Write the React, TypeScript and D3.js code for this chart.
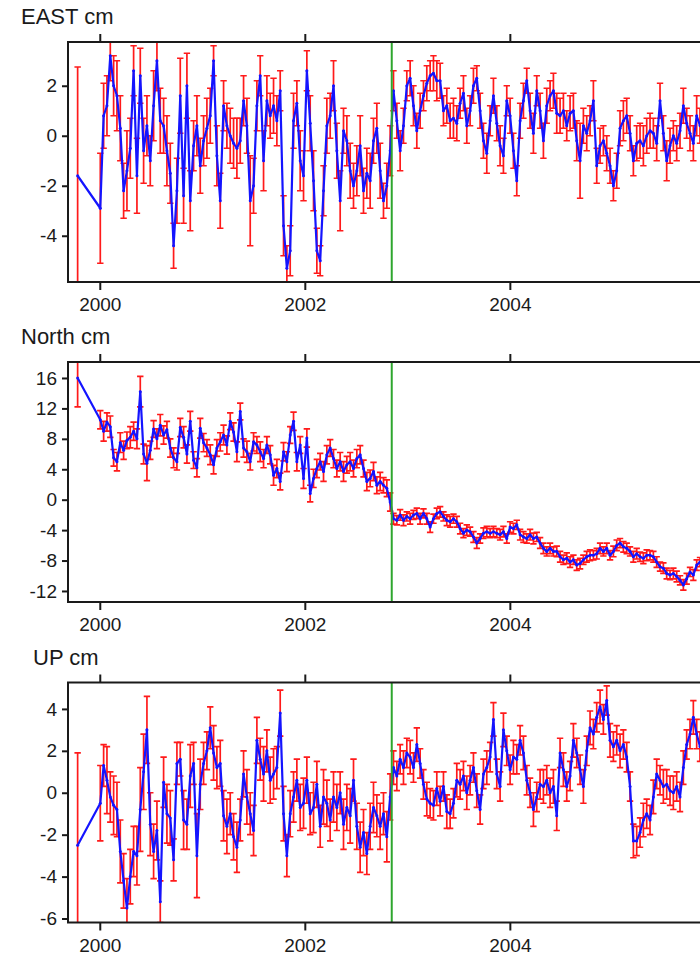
import React, { useRef, useEffect } from "react";
import { select, scaleLinear, line, axisLeft, axisBottom, axisTop, range } from "d3";

// epochs (decimal years): one early solution, then a regular series
const firstEpoch = 1999.784;
const startEpoch = 2000.005;
const sampleStep = 0.0325;
const breakEpoch = 2002.848;

const eastCm = [-1.6,
  -2.9, 0.8, 1.2, 3.2, 2.0, 1.6, 0.3, -2.2, -1.4, -0.5,
  2.6, -1.6, 2.4, -0.6, 0.4, -1.0, 1.2, 3.0, 0.6, 0.4,
  -0.6, -1.5, -4.4, -2.2, 1.6, -2.4, 2.0, -2.6, -0.4, 0.4,
  -1.2, -0.2, 0.3, 0.8, 3.0, -0.8, -2.6, 1.2, 0.4, 0.0,
  -0.3, -0.5, -0.2, 1.4, 0.4, -2.6, -2.0, 1.2, 2.4, -1.0,
  1.4, 0.8, 1.2, 0.6, 1.8, -3.6, -5.3, -4.6, 0.6, 1.3,
  -1.0, -1.6, 2.6, 0.5, -1.8, -4.6, -5.0, -2.2, 0.4, 0.8,
  2.0, -0.6, -2.6, 0.2, -0.2, -1.4, -2.0, -1.4, -0.4, -2.2,
  -1.5, -1.8, -0.2, 0.3, -1.4, -2.6, -2.0, -0.6, 1.8, 0.6,
  -0.6, 0.4, 2.0, 2.3, 1.2, 0.2, 1.0, 1.6, 2.1, 2.4,
  2.5, 2.2, 2.2, 1.0, 1.2, 0.6, 0.7, 0.5, 1.3, 1.7,
  0.4, 1.0, 2.0, 2.3, 1.0, -0.2, -0.7, 0.6, 1.6, 0.5,
  -0.4, -0.8, 1.4, 0.8, -0.6, -1.8, 0.6, 1.4, 2.2, 1.0,
  0.1, 1.8, 1.0, -0.2, 1.2, 1.6, 1.8, 0.9, 0.8, 1.0,
  0.4, 0.9, 1.0, -0.2, -1.0, 0.4, 0.1, 0.6, 1.4, -1.2,
  -0.4, -0.2, -0.7, -1.2, -2.0, -1.4, 0.3, 0.6, 0.8, 0.1,
  -1.0, -0.3, -0.2, -0.4, 0.0, 0.2, 0.1, -0.3, 1.4, 0.1,
  -1.0, -0.4, 0.0, -0.3, 0.2, 1.2, 0.5, 0.1, -0.3, 0.8,
  0.4];
const eastErr = [4.35,
  2.2, 1.3, 1.2, 1.0, 1.2, 1.4, 1.3, 1.1, 1.6, 1.2,
  1.0, 1.5, 1.1, 1.3, 1.2, 1.0, 1.4, 1.2, 1.3, 1.1,
  1.4, 1.2, 0.9, 1.3, 1.5, 1.1, 1.3, 1.2, 1.0, 1.2,
  1.1, 1.0, 1.2, 1.1, 0.6, 1.2, 1.1, 1.0, 0.9, 1.1,
  1.0, 1.2, 0.9, 1.0, 1.1, 1.8, 1.1, 1.0, 0.8, 1.2,
  1.0, 0.9, 1.1, 1.0, 0.8, 1.2, 0.9, 1.0, 1.1, 0.9,
  1.2, 1.0, 0.8, 1.1, 1.2, 0.9, 0.6, 1.0, 1.1, 0.9,
  1.0, 1.1, 1.2, 0.9, 1.0, 1.1, 0.9, 1.0, 1.2, 0.9,
  1.0, 1.1, 0.9, 1.0, 1.1, 0.7, 0.9, 1.0, 0.8, 0.7,
  0.8, 0.7, 0.6, 0.7, 0.8, 0.7, 0.7, 0.6, 0.7, 0.6,
  0.7, 0.8, 0.7, 0.6, 0.7, 0.7, 0.8, 0.7, 0.6, 0.7,
  0.7, 0.6, 0.7, 0.5, 0.7, 0.7, 0.8, 0.6, 0.7, 0.7,
  0.8, 0.7, 0.6, 0.7, 0.7, 0.6, 0.7, 0.7, 0.5, 0.7,
  0.8, 0.6, 0.7, 0.7, 0.7, 0.6, 0.7, 0.8, 0.7, 0.7,
  0.6, 0.7, 0.7, 0.8, 1.5, 0.7, 0.7, 0.6, 0.8, 0.7,
  0.7, 0.6, 0.7, 0.7, 0.6, 0.7, 0.7, 0.8, 0.7, 0.7,
  0.6, 0.7, 0.7, 0.8, 0.7, 0.7, 0.6, 0.7, 0.7, 0.7,
  0.8, 0.7, 0.6, 0.7, 0.7, 0.7, 0.6, 0.7, 0.7, 0.8,
  0.7];

const northCm = [16.0,
  10.5, 9.0, 10.2, 9.6, 5.5, 5.0, 7.5, 6.5, 7.8, 8.2,
  9.0, 8.0, 14.2, 6.0, 4.8, 6.5, 9.3, 8.0, 9.8, 8.5,
  9.2, 6.8, 5.5, 5.0, 9.5, 8.2, 6.0, 10.3, 5.2, 4.2,
  9.4, 7.5, 6.8, 5.9, 4.6, 6.8, 7.6, 8.5, 7.2, 10.3,
  8.9, 6.3, 11.6, 6.8, 6.3, 5.0, 7.6, 7.2, 6.3, 5.4,
  7.2, 5.9, 3.2, 4.1, 2.4, 6.3, 5.0, 8.5, 10.3, 5.0,
  7.2, 2.8, 8.1, 0.8, 2.8, 4.1, 5.0, 3.7, 5.9, 6.8,
  5.4, 4.1, 5.0, 3.7, 4.6, 5.0, 4.1, 5.4, 5.9, 4.1,
  2.4, 2.8, 3.7, 1.9, 2.4, 1.9, 1.5, -0.3, -2.5, -2.7,
  -2.0, -2.7, -2.2, -2.5, -2.0, -1.8, -2.5, -1.8, -2.5, -3.6,
  -2.5, -1.8, -1.6, -2.2, -2.7, -2.9, -2.5, -2.9, -3.8, -4.4,
  -4.0, -4.2, -4.9, -5.7, -5.1, -4.4, -4.2, -4.4, -4.2, -4.4,
  -4.6, -4.2, -5.1, -3.6, -3.8, -3.3, -4.6, -4.9, -5.1, -4.6,
  -5.1, -4.9, -5.7, -6.4, -6.8, -6.4, -6.8, -6.8, -7.5, -7.9,
  -7.7, -8.2, -7.9, -8.6, -8.4, -7.9, -7.5, -7.3, -7.3, -7.1,
  -6.4, -6.8, -6.4, -7.3, -6.8, -6.0, -5.7, -6.2, -6.4, -6.8,
  -7.5, -7.1, -7.5, -7.7, -7.3, -7.3, -7.5, -8.2, -8.8, -9.0,
  -9.7, -9.9, -9.7, -10.1, -10.6, -11.2, -10.4, -9.5, -9.9, -8.6,
  -8.2];
const northErr = [3.8,
  1.2, 1.3, 1.2, 1.4, 1.1, 1.2, 1.3, 1.2, 1.1, 1.4,
  1.2, 1.3, 2.0, 1.3, 2.3, 1.2, 1.1, 1.3, 1.4, 1.2,
  1.1, 1.2, 1.3, 1.1, 1.2, 1.4, 1.2, 1.3, 1.1, 1.2,
  1.3, 1.2, 1.1, 1.3, 1.2, 1.1, 1.2, 1.3, 1.2, 1.1,
  1.2, 1.3, 1.1, 1.2, 1.4, 1.1, 1.2, 1.1, 1.3, 1.2,
  1.1, 1.2, 1.3, 1.2, 1.1, 1.2, 1.3, 1.1, 1.2, 1.2,
  1.1, 1.3, 1.2, 1.1, 1.2, 1.2, 1.1, 1.3, 1.2, 1.1,
  1.2, 1.1, 1.2, 1.3, 1.1, 1.2, 1.1, 1.2, 1.2, 1.1,
  1.2, 1.1, 1.2, 1.1, 1.2, 1.0, 1.1, 1.2, 0.7, 0.6,
  0.7, 0.7, 0.6, 0.7, 0.6, 0.7, 0.7, 0.6, 0.7, 0.7,
  0.6, 0.7, 0.7, 0.6, 0.7, 0.7, 0.6, 0.7, 0.7, 0.6,
  0.7, 0.6, 0.7, 0.7, 0.6, 0.7, 0.7, 0.6, 0.7, 0.6,
  0.7, 0.7, 0.6, 0.7, 0.7, 0.6, 0.7, 0.7, 0.6, 0.7,
  0.7, 0.6, 0.7, 0.7, 0.6, 0.7, 0.6, 0.7, 0.7, 0.6,
  0.7, 0.7, 0.6, 0.7, 0.7, 0.6, 0.7, 0.7, 0.6, 0.7,
  0.7, 0.6, 0.7, 0.6, 0.7, 0.7, 0.6, 0.7, 0.7, 0.6,
  0.7, 0.7, 0.6, 0.7, 0.7, 0.6, 0.7, 0.7, 0.6, 0.7,
  0.7, 0.6, 0.7, 0.7, 0.6, 0.7, 0.7, 0.6, 0.7, 0.7,
  0.6];

const upCm = [-2.5,
  -0.5, 1.3, 0.6, -0.2, -0.6, -0.8, -2.8, -4.2, -5.5, -4.0,
  -2.8, -3.0, -0.8, 1.0, 3.0, -1.5, -2.8, -1.8, -5.2, 0.5,
  -1.0, -1.2, -3.2, 1.4, 1.6, -1.3, -1.5, 0.8, 1.4, -3.0,
  0.4, 1.4, 2.0, 3.1, 1.9, 1.2, 1.4, -1.1, -1.6, -1.0,
  -2.1, -2.6, -1.3, 0.9, -0.2, -1.0, -1.8, 2.5, 1.6, 0.9,
  2.0, 0.6, 0.9, 1.2, 3.8, -1.0, -3.0, -1.0, -0.2, 0.6,
  -0.7, -0.5, 0.6, -1.0, -0.7, 0.4, -1.6, -0.2, -0.5, -1.3,
  -0.2, -0.7, 0.0, -1.5, -0.7, -1.1, 0.6, -1.6, -2.6, -1.9,
  -2.9, -1.6, -0.7, -1.1, -1.6, -1.0, -2.1, -0.2, 1.2, 0.8,
  1.6, 1.2, 1.9, 1.7, 1.2, 2.3, 1.4, 0.4, -0.3, -0.5,
  -0.6, 0.2, -0.4, 0.3, -0.9, -1.0, -0.5, 0.6, 0.4, 0.8,
  0.0, 0.6, 1.2, 0.1, -0.8, 0.9, 1.2, 1.7, 3.5, 0.9,
  0.3, 3.0, 2.0, 1.1, 1.7, 1.6, 2.5, 1.9, 0.6, 0.0,
  -0.8, -0.2, 0.4, 0.3, 0.6, 0.0, 0.3, -1.1, 1.9, 1.1,
  0.3, 0.8, 2.5, 1.9, 1.1, 0.3, 2.0, 3.1, 2.8, 3.6,
  4.1, 3.5, 4.4, 2.5, 2.2, 2.5, 2.0, 2.3, 1.7, 0.3,
  -2.3, -2.3, -1.9, -1.3, -1.0, -1.3, -0.2, 0.9, 0.6, 0.3,
  0.4, 0.1, 0.0, 0.3, -0.2, 1.2, 2.3, 2.8, 3.6, 2.8,
  2.2];
const upErr = [4.4,
  1.8, 1.0, 1.6, 1.2, 1.4, 1.3, 1.5, 1.3, 1.4, 1.3,
  1.2, 1.4, 2.0, 1.8, 1.6, 1.5, 1.3, 1.4, 1.0, 1.2,
  1.4, 1.3, 1.0, 1.0, 0.8, 1.4, 1.2, 1.5, 1.0, 2.0,
  1.2, 1.0, 0.9, 1.0, 1.3, 1.0, 1.1, 1.2, 1.3, 1.0,
  1.1, 1.2, 1.0, 1.1, 1.3, 1.0, 1.2, 1.1, 1.0, 1.3,
  1.0, 1.1, 1.2, 1.0, 1.1, 1.3, 1.0, 1.1, 1.2, 1.0,
  1.1, 1.2, 1.1, 1.0, 1.2, 1.1, 1.0, 1.3, 1.1, 1.0,
  1.2, 1.1, 1.0, 1.2, 1.1, 1.3, 1.0, 1.1, 1.2, 1.1,
  1.0, 1.1, 1.2, 1.0, 1.1, 1.0, 1.2, 1.1, 0.8, 0.7,
  0.7, 0.8, 0.7, 0.8, 0.7, 0.8, 0.7, 0.7, 0.8, 0.7,
  0.7, 0.8, 0.7, 0.7, 0.8, 0.7, 0.7, 0.8, 0.7, 0.7,
  0.8, 0.7, 0.7, 0.8, 0.7, 0.7, 0.8, 0.7, 0.8, 0.7,
  0.7, 0.8, 0.7, 0.7, 0.8, 0.7, 0.7, 0.8, 0.7, 0.7,
  0.8, 0.7, 0.7, 0.8, 0.7, 0.7, 0.8, 0.7, 0.7, 0.8,
  0.7, 0.7, 0.8, 0.7, 0.7, 0.8, 0.7, 0.8, 0.7, 0.7,
  0.8, 0.7, 0.7, 0.8, 0.7, 0.7, 0.8, 0.7, 0.7, 0.7,
  0.8, 0.7, 0.7, 0.8, 0.7, 0.7, 0.8, 0.7, 0.7, 0.8,
  0.7, 0.7, 0.8, 0.7, 0.7, 0.8, 0.7, 0.7, 0.8, 0.7,
  0.7];

const yearTicks = [2000, 2002, 2004];
const eastTicks = [2, 0, -2, -4];
const northTicks = [16, 12, 8, 4, 0, -4, -8, -12];
const upTicks = [4, 2, 0, -2, -4, -6];

const epochs = [firstEpoch, ...range(eastCm.length - 1).map(i => startEpoch + i * sampleStep)];

const panels = [
  { title: "EAST cm", values: eastCm, errs: eastErr, domain: [-5.85, 3.75], ticks: eastTicks, top: 42 },
  { title: "North cm", values: northCm, errs: northErr, domain: [-13.45, 18.1], ticks: northTicks, top: 362 },
  { title: "UP cm", values: upCm, errs: upErr, domain: [-6.19, 5.26], ticks: upTicks, top: 682.5 },
];

const W = 700, H = 955;
const left = 68, right = 720, panelH = 240;
const font = "'Liberation Sans', Arial, sans-serif";

function App() {
  const svgRef = useRef<SVGSVGElement>(null);

  useEffect(() => {
    const svg = select(svgRef.current);
    svg.selectAll("*").remove();

    const x = scaleLinear().domain([1999.69, 2006.05]).range([left, right]);

    panels.forEach((p, k) => {
      const y = scaleLinear().domain(p.domain).range([panelH, 0]);
      const g = svg.append("g").attr("transform", `translate(0, ${p.top})`);

      g.append("clipPath").attr("id", `clip${k}`)
        .append("rect").attr("x", left).attr("y", 0).attr("width", right - left).attr("height", panelH);

      const plot = g.append("g").attr("clip-path", `url(#clip${k})`);

      // error bars with caps
      plot.append("g")
        .selectAll("path")
        .data(p.values)
        .enter()
        .append("path")
        .attr("d", (v, i) => {
          const cx = x(epochs[i]);
          const y1 = y(v - p.errs[i]);
          const y2 = y(v + p.errs[i]);
          return `M${cx - 3.2},${y1}H${cx + 3.2}M${cx},${y1}V${y2}M${cx - 3.2},${y2}H${cx + 3.2}`;
        })
        .attr("stroke", "#ff1a1a")
        .attr("stroke-width", 1.7)
        .attr("fill", "none");

      const path = line<number>()
        .x((v, i) => x(epochs[i]))
        .y(v => y(v));

      plot.append("path")
        .datum(p.values)
        .attr("d", path)
        .attr("fill", "none")
        .attr("stroke", "#1414ff")
        .attr("stroke-width", 2.2)
        .attr("stroke-linejoin", "round");

      plot.append("g")
        .selectAll("circle")
        .data(p.values)
        .enter()
        .append("circle")
        .attr("cx", (v, i) => x(epochs[i]))
        .attr("cy", v => y(v))
        .attr("r", 1.5)
        .attr("fill", "#1414ff");

      plot.append("line")
        .attr("x1", x(breakEpoch)).attr("x2", x(breakEpoch))
        .attr("y1", 0).attr("y2", panelH)
        .attr("stroke", "#2ea62e")
        .attr("stroke-width", 2);

      // axes
      const yAxis = g.append("g").attr("transform", `translate(${left},0)`)
        .call(axisLeft(y).tickValues(p.ticks).tickSize(6).tickPadding(5).tickFormat(d => String(d)));
      const xBottom = g.append("g").attr("transform", `translate(0,${panelH})`)
        .call(axisBottom(x).tickValues(yearTicks).tickSize(8).tickPadding(8).tickFormat(d => String(d)));
      const xTop = g.append("g")
        .call(axisTop(x).tickValues(yearTicks).tickSize(8).tickFormat(() => ""));

      [yAxis, xBottom, xTop].forEach(a => {
        a.select(".domain").remove();
        a.selectAll("line").attr("stroke", "#1a1a1a").attr("stroke-width", 2);
        a.selectAll("text").attr("fill", "#1a1a1a").style("font-family", font).style("font-size", "19px");
      });

      g.append("rect")
        .attr("x", left).attr("y", 0)
        .attr("width", right - left).attr("height", panelH)
        .attr("fill", "none")
        .attr("stroke", "#1a1a1a")
        .attr("stroke-width", 2);

      g.append("text")
        .attr("x", k === 2 ? 33 : 21)
        .attr("y", -18)
        .attr("fill", "#1a1a1a")
        .style("font-family", font)
        .style("font-size", "22px")
        .text(p.title);
    });
  }, []);

  return (
    <svg ref={svgRef} width={W} height={H}
      style={{ position: "absolute", left: 0, top: 0, background: "#fff" }} />
  );
}

export default App;
